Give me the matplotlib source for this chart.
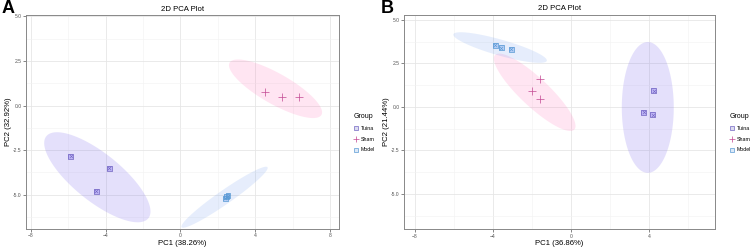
import numpy as np
import matplotlib
matplotlib.use("Agg")
import matplotlib.pyplot as plt
from matplotlib.lines import Line2D

plt.rcParams['font.family'] = ['Liberation Sans', 'DejaVu Sans']

groups = ["Tuina", "Sham", "Model"]
colors = {"Tuina": "#7467C4", "Sham": "#C8559A", "Model": "#5B9BD5"}
fills = {"Tuina": "#7B68EE", "Sham": "#FF69B4", "Model": "#6495ED"}
fill_alpha = {"Tuina": 0.2, "Sham": 0.17, "Model": 0.16}

# Panel A scores
a_tuina_x = [-5.88, -3.82, -4.50]
a_tuina_y = [-2.84, -3.51, -4.80]
a_sham_x = [4.54, 5.41, 6.37]
a_sham_y = [0.78, 0.50, 0.50]
a_model_x = [2.40, 2.48, 2.55]
a_model_y = [-5.20, -5.12, -5.06]

# Panel B scores
b_tuina_x = [4.23, 3.72, 4.18]
b_tuina_y = [0.92, -0.32, -0.44]
b_sham_x = [-1.62, -2.00, -1.62]
b_sham_y = [1.59, 0.92, 0.44]
b_model_x = [-3.89, -3.58, -3.07]
b_model_y = [3.55, 3.41, 3.30]

# Ellipses: center (cx, cy), conjugate semi-axis vectors A and B (data units)
a_ell = {
    "Tuina": [(-4.45, -4.02), (2.73, -2.30), (-0.80, -1.04)],
    "Sham": [(5.09, 0.94), (2.46, -1.46), (-0.40, -0.75)],
    "Model": [(2.36, -5.14), (2.30, 1.68), (0.21, -0.32)],
}
b_ell = {
    "Tuina": [(3.92, -0.03), (0.0, 3.76), (1.33, 0.0)],
    "Sham": [(-1.87, 0.84), (2.03, -2.14), (-0.50, -0.60)],
    "Model": [(-3.64, 3.41), (2.39, -0.76), (-0.11, -0.44)],
}

a_xlabel = "PC1 (38.26%)"
a_ylabel = "PC2 (32.92%)"
b_xlabel = "PC1 (36.86%)"
b_ylabel = "PC2 (21.44%)"

a_x_major = [-8, -4, 0, 4, 8]
b_x_major = [-8, -4, 0, 4]
x_minor = [-6, -2, 2, 6]
y_major = [-5.0, -2.5, 0.0, 2.5, 5.0]
y_minor = [-6.25, -3.75, -1.25, 1.25, 3.75]
y_ticklabels = ["-5.0", "-2.5", "0.0", "2.5", "5.0"]


def draw_marker(ax, g, x, y):
    c = colors[g]
    if g == "Sham":
        ax.scatter(x, y, marker='+', s=26, color=c, linewidths=0.55, zorder=4)
    else:
        ax.scatter(x, y, marker='s', s=12, facecolor=fills[g], alpha=0.35,
                   edgecolor='none', zorder=4)
        ax.scatter(x, y, marker='s', s=12, facecolor='none', edgecolor=c,
                   linewidths=0.55, zorder=4)
        ax.scatter(x, y, marker='x', s=6, color=c, linewidths=0.45, zorder=5)


def panel(ax, data, ells, xlabel, ylabel, xlim, ylim, xticks, letter, fig, lx):
    ax.set_facecolor('white')
    t = np.linspace(0, 2 * np.pi, 200)
    for g in groups:
        (cx, cy), A, B = ells[g]
        ex = cx + np.cos(t) * A[0] + np.sin(t) * B[0]
        ey = cy + np.cos(t) * A[1] + np.sin(t) * B[1]
        ax.fill(ex, ey, color=fills[g], alpha=fill_alpha[g], lw=0, zorder=2)
    for g in groups:
        x, y = data[g]
        draw_marker(ax, g, x, y)
    ax.set_xlim(*xlim)
    ax.set_ylim(*ylim)
    ax.set_xticks(xticks)
    ax.set_xticks(x_minor, minor=True)
    ax.set_yticks(y_major)
    ax.set_yticks(y_minor, minor=True)
    ax.set_yticklabels(y_ticklabels)
    ax.grid(True, which='major', color='#e6e6e6', lw=0.6, zorder=0)
    ax.grid(True, which='minor', color='#f2f2f2', lw=0.4, zorder=0)
    ax.set_axisbelow(True)
    ax.tick_params(which='major', length=2, width=0.5, color='#555555',
                   labelsize=3.6, labelcolor='#555555', pad=1.2)
    ax.tick_params(which='minor', length=0)
    for s in ax.spines.values():
        s.set_color('#888888')
        s.set_linewidth(0.7)
    ax.set_xlabel(xlabel, fontsize=5.6, labelpad=1.0)
    ax.set_ylabel(ylabel, fontsize=5.6, labelpad=0.6)
    ax.set_title("2D PCA Plot", fontsize=5.6, pad=3)
    fig.text(lx, 1.0, letter, fontsize=13, fontweight='bold', va='top', ha='left')
    handles = []
    for g in groups:
        c = colors[g]
        if g == "Sham":
            handles.append(Line2D([], [], ls='none', marker='+', markersize=5, mec=c, mew=0.55))
        else:
            handles.append(Line2D([], [], ls='none', marker='s', markersize=3.3,
                                  mfc='#dcdcf0' if g == "Tuina" else '#dce9f7',
                                  mec=c, mew=0.5))
    leg = ax.legend(handles, groups, title="Group", loc='center left',
                    bbox_to_anchor=(1.04, 0.45), frameon=False, fontsize=3.8,
                    title_fontsize=5, handlelength=1.0, handletextpad=0.4,
                    labelspacing=1.1, borderaxespad=0)
    leg._legend_box.align = "left"


fig = plt.figure(figsize=(7.53, 2.47), dpi=100)
axA = fig.add_axes([0.0345, 0.0729, 0.4155, 0.866])
axB = fig.add_axes([0.5365, 0.0717, 0.413, 0.869])

panel(axA, {"Tuina": (a_tuina_x, a_tuina_y), "Sham": (a_sham_x, a_sham_y),
            "Model": (a_model_x, a_model_y)}, a_ell, a_xlabel, a_ylabel,
      (-8.27, 8.48), (-6.92, 5.07), a_x_major, "A", fig, 0.002)
panel(axB, {"Tuina": (b_tuina_x, b_tuina_y), "Sham": (b_sham_x, b_sham_y),
            "Model": (b_model_x, b_model_y)}, b_ell, b_xlabel, b_ylabel,
      (-8.56, 7.36), (-7.03, 5.30), b_x_major, "B", fig, 0.505)

fig.savefig("out.png", dpi=100)
